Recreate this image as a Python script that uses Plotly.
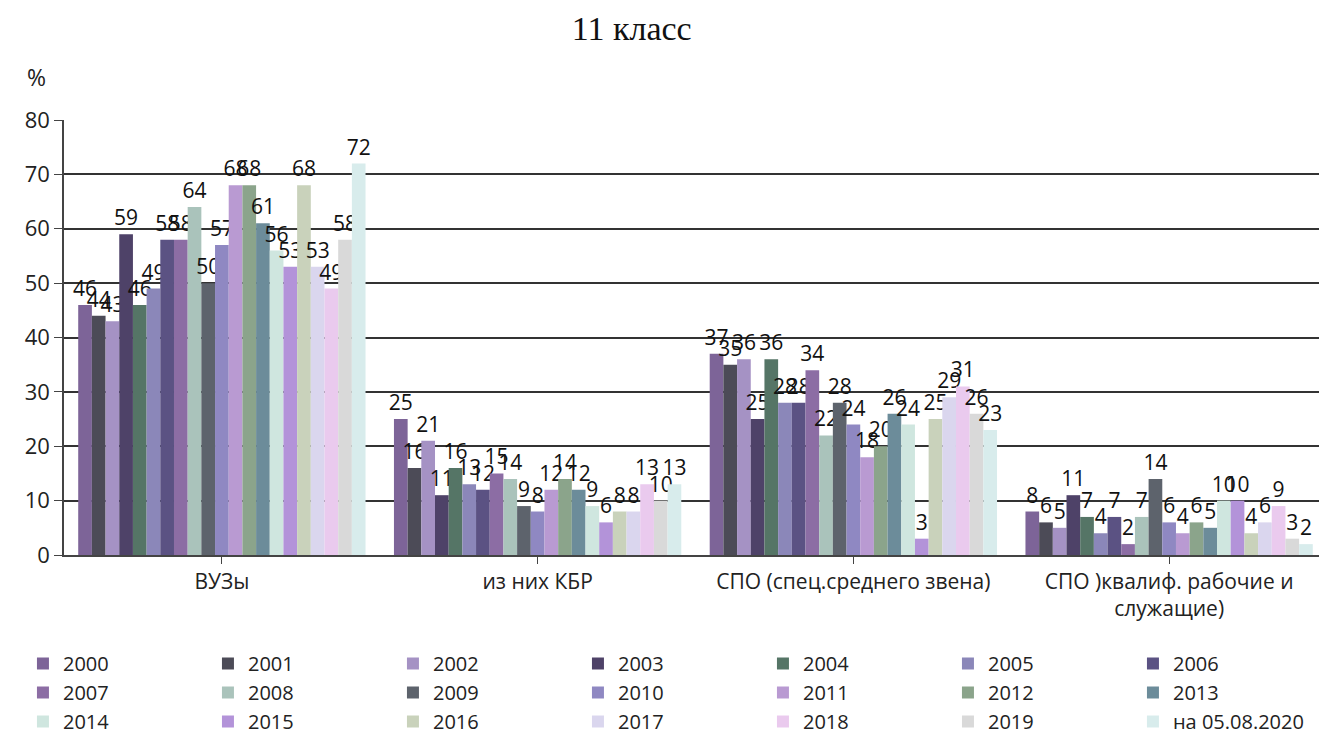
import plotly.graph_objects as go

categories = ["ВУЗы", "из них КБР", "СПО (спец.среднего звена)", "СПО )квалиф. рабочие и<br>служащие)"]
series_names = ["2000", "2001", "2002", "2003", "2004", "2005", "2006",
                "2007", "2008", "2009", "2010", "2011", "2012", "2013",
                "2014", "2015", "2016", "2017", "2018", "2019", "на 05.08.2020"]
vuzy = [46, 44, 43, 59, 46, 49, 58, 58, 64, 50, 57, 68, 68, 61, 56, 53, 68, 53, 49, 58, 72]
kbr = [25, 16, 21, 11, 16, 13, 12, 15, 14, 9, 8, 12, 14, 12, 9, 6, 8, 8, 13, 10, 13]
spo_spec = [37, 35, 36, 25, 36, 28, 28, 34, 22, 28, 24, 18, 20, 26, 24, 3, 25, 29, 31, 26, 23]
spo_kval = [8, 6, 5, 11, 7, 4, 7, 2, 7, 14, 6, 4, 6, 5, 10, 10, 4, 6, 9, 3, 2]
colors = ["#7d6498", "#4c4b57", "#a592c4", "#4e4268", "#557566", "#8b87b9", "#5b5283",
          "#8c6da4", "#aac3bb", "#5d636c", "#8f88c2", "#b99ad2", "#8ba48b", "#6c8c9a",
          "#cfe6df", "#b393d9", "#c9d2bb", "#dad6ee", "#eacaee", "#d9d9d9", "#d8ecec"]

fig = go.Figure()
for i, name in enumerate(series_names):
    vals = [vuzy[i], kbr[i], spo_spec[i], spo_kval[i]]
    fig.add_trace(go.Bar(
        x=categories, y=vals, name=name,
        marker=dict(color=colors[i], line=dict(width=0)),
        text=[str(v) for v in vals], textposition="outside",
        textfont=dict(size=21, color="#111111", family="Open Sans, DejaVu Sans, sans-serif"),
        constraintext="none", cliponaxis=False,
    ))

fig.update_layout(
    width=1327, height=738,
    paper_bgcolor="white", plot_bgcolor="white",
    barmode="group", bargap=0.09, bargroupgap=0,
    title=dict(text="11 класс", x=0.470, xref="container", y=1 - 20 / 738, yref="container",
               xanchor="center", yanchor="middle",
               font=dict(family="Liberation Serif, serif", size=34, color="#111111")),
    margin=dict(l=56, r=8, t=112, b=191, autoexpand=False),
    font=dict(family="Open Sans, DejaVu Sans, sans-serif", color="#222222"),
    xaxis=dict(range=[-0.5, 3.5], showgrid=False, showline=True, linecolor="#444444",
               linewidth=1.5, ticks="outside", tickcolor="#444444", ticklen=7,
               tickfont=dict(size=21, color="#222222")),
    yaxis=dict(range=[0, 80], dtick=10, showgrid=True, gridcolor="#333333", gridwidth=1.5,
               showline=True, linecolor="#444444", linewidth=1.5, ticks="outside",
               tickcolor="#444444", ticklen=8, zeroline=False,
               tickfont=dict(size=22, color="#222222")),
    legend=dict(orientation="h", x=-0.0325, y=-0.2046, xanchor="left", yanchor="top",
                entrywidth=140, entrywidthmode="pixels", traceorder="normal",
                font=dict(size=20, color="#222222"), itemwidth=30, tracegroupgap=0),
    annotations=[dict(text="%", xref="paper", yref="paper", x=-0.0214, y=1.099,
                      xanchor="center", yanchor="middle", showarrow=False,
                      font=dict(size=23, color="#222222"))],
)

fig.write_html("out.html")
